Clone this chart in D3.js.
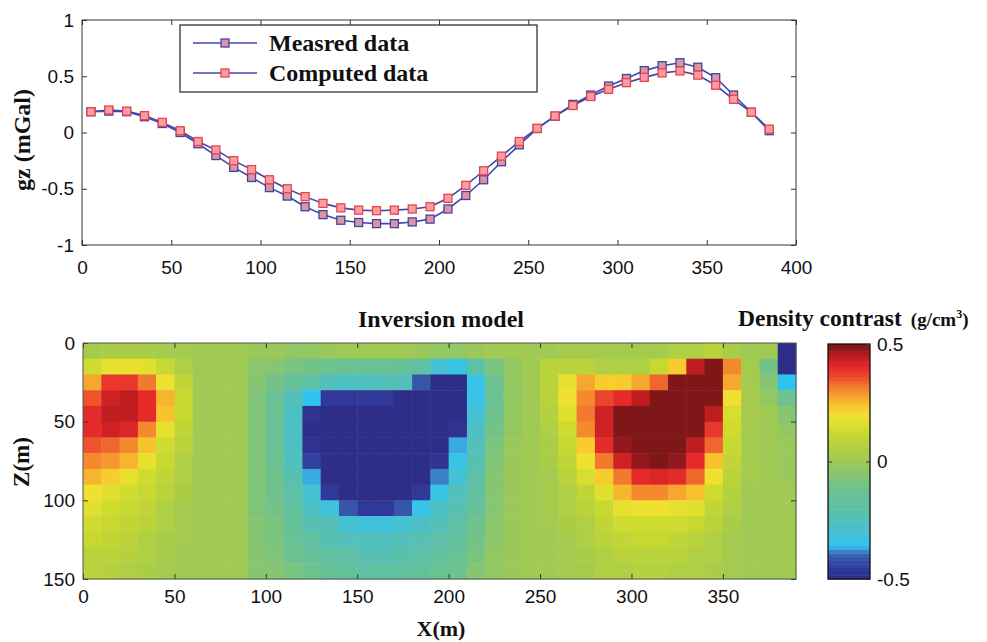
<!DOCTYPE html>
<html>
<head>
<meta charset="utf-8">
<script src="https://cdn.jsdelivr.net/npm/d3@7"></script>
<style>
  body { margin: 0; background: #fff; }
  svg { display: block; }
  .tick text { font-family: "Liberation Sans", Arial, sans-serif; font-size: 19px; fill: #111; }
  .tick line { stroke: #333; stroke-width: 1; }
  .serif { font-family: "Liberation Serif", "Times New Roman", serif; font-weight: bold; fill: #111; }
</style>
</head>
<body>
<svg id="fig" width="987" height="642"></svg>
<script>
// ---- gravity profile ----
const stations = [5, 15, 25, 35, 45, 55, 65, 75, 85, 95, 105, 115, 125, 135, 145, 155, 165, 175, 185, 195,
  205, 215, 225, 235, 245, 255, 265, 275, 285, 295, 305, 315, 325, 335, 345, 355, 365, 375, 385];
const measured = [0.185, 0.19, 0.185, 0.14, 0.08, 0.0, -0.10, -0.205, -0.31, -0.40, -0.49, -0.565, -0.66, -0.73,
  -0.78, -0.80, -0.81, -0.81, -0.795, -0.77, -0.68, -0.56, -0.42, -0.26, -0.11, 0.035, 0.145, 0.25, 0.333,
  0.413, 0.48, 0.55, 0.594, 0.62, 0.58, 0.487, 0.333, 0.18, 0.016];
const computed = [0.185, 0.2, 0.19, 0.15, 0.09, 0.016, -0.08, -0.155, -0.25, -0.33, -0.42, -0.50, -0.57, -0.63,
  -0.67, -0.69, -0.695, -0.69, -0.68, -0.66, -0.585, -0.47, -0.34, -0.21, -0.08, 0.037, 0.147, 0.24, 0.32,
  0.384, 0.443, 0.49, 0.53, 0.547, 0.51, 0.42, 0.295, 0.18, 0.03];
const gzTicks = [-1, -0.5, 0, 0.5, 1];
const profileTicks = [0, 50, 100, 150, 200, 250, 300, 350, 400];

// ---- inversion model (10 m x 10 m cells, g/cm^3) ----
const cellX = [0, 10, 20, 30, 40, 50, 60, 70, 80, 90, 100, 110, 120, 130, 140, 150, 160, 170, 180, 190,
  200, 210, 220, 230, 240, 250, 260, 270, 280, 290, 300, 310, 320, 330, 340, 350, 360, 370, 380];
const cellZ = [0, 10, 20, 30, 40, 50, 60, 70, 80, 90, 100, 110, 120, 130, 140];
const density = [
  [0.03,0.04,0.04,0.04,0.03,0.02, 0,0,0, -0.01,-0.01,-0.02, -0.02,-0.01,0,0.01,0.01,0,-0.01,-0.02,-0.02,-0.01, 0,0,0, 0.01,0.02,0.02,0.02,0.02,0.02,0.03,0.05,0.06,0.08,0.04, 0,0,-0.5],
  [0.14,0.18,0.18,0.16,0.12,0.06, 0.01,0,0, -0.04,-0.06,-0.08, -0.1,-0.12,-0.13,-0.14,-0.14,-0.15,-0.18,-0.3,-0.33,-0.2, -0.08,-0.02,0, 0.08,0.08,0.08,0.06,0.05,0.06,0.12,0.23,0.45,0.5,0.3, 0.02,-0.1,-0.5],
  [0.27,0.38,0.38,0.32,0.2,0.1, 0.01,0,0, -0.06,-0.1,-0.15, -0.2,-0.25,-0.27,-0.26,-0.24,-0.24,-0.42,-0.5,-0.5,-0.33, -0.12,-0.02,0, 0.08,0.18,0.27,0.22,0.22,0.27,0.34,0.5,0.5,0.5,0.28, 0.02,-0.06,-0.35],
  [0.35,0.43,0.45,0.4,0.26,0.11, 0.01,0,0, -0.07,-0.13,-0.24, -0.35,-0.46,-0.46,-0.46,-0.46,-0.5,-0.5,-0.5,-0.5,-0.33, -0.13,-0.02,0, 0.08,0.19,0.3,0.37,0.4,0.45,0.5,0.5,0.5,0.5,0.2, 0.02,-0.03,-0.12],
  [0.4,0.45,0.45,0.4,0.24,0.11, 0.01,0,0, -0.07,-0.14,-0.28, -0.47,-0.5,-0.5,-0.5,-0.5,-0.5,-0.5,-0.5,-0.5,-0.31, -0.12,-0.02,0, 0.07,0.16,0.32,0.43,0.5,0.5,0.5,0.5,0.5,0.44,0.15, 0.02,0,-0.05],
  [0.4,0.43,0.42,0.3,0.18,0.1, 0.01,0,0, -0.07,-0.14,-0.28, -0.49,-0.5,-0.5,-0.5,-0.5,-0.5,-0.5,-0.5,-0.47,-0.28, -0.1,-0.02,0, 0.06,0.13,0.3,0.43,0.5,0.5,0.5,0.5,0.5,0.39,0.14, 0.02,0,-0.02],
  [0.35,0.34,0.3,0.24,0.14,0.08, 0.01,0,0, -0.07,-0.14,-0.28, -0.48,-0.5,-0.5,-0.5,-0.5,-0.5,-0.5,-0.5,-0.37,-0.25, -0.08,-0.01,0, 0.04,0.12,0.23,0.4,0.48,0.5,0.5,0.5,0.45,0.33,0.12, 0.02,0,-0.01],
  [0.3,0.29,0.26,0.18,0.12,0.06, 0.01,0,0, -0.07,-0.13,-0.26, -0.45,-0.5,-0.5,-0.5,-0.5,-0.5,-0.5,-0.48,-0.33,-0.22, -0.07,-0.01,0, 0.04,0.1,0.2,0.32,0.43,0.48,0.5,0.48,0.4,0.24,0.1, 0.02,0,-0.01],
  [0.25,0.22,0.18,0.13,0.1,0.05, 0,0,0, -0.07,-0.12,-0.23, -0.36,-0.49,-0.5,-0.5,-0.5,-0.5,-0.5,-0.39,-0.3,-0.2, -0.06,-0.01,0, 0.03,0.08,0.15,0.22,0.32,0.4,0.42,0.4,0.33,0.2,0.08, 0.02,0,-0.01],
  [0.19,0.17,0.14,0.11,0.08,0.04, 0,0,0, -0.07,-0.11,-0.2, -0.3,-0.46,-0.49,-0.5,-0.5,-0.5,-0.46,-0.33,-0.25,-0.18, -0.05,-0.01,0, 0.03,0.06,0.1,0.16,0.26,0.3,0.3,0.28,0.24,0.14,0.07, 0.01,0,0],
  [0.16,0.14,0.12,0.1,0.06,0.03, 0,0,0, -0.07,-0.1,-0.17, -0.27,-0.32,-0.42,-0.46,-0.46,-0.42,-0.33,-0.28,-0.22,-0.15, -0.05,-0.01,0, 0.02,0.05,0.08,0.12,0.18,0.2,0.2,0.18,0.16,0.1,0.05, 0.01,0,0],
  [0.13,0.12,0.1,0.08,0.05,0.02, 0,0,0, -0.06,-0.09,-0.15, -0.22,-0.25,-0.3,-0.32,-0.32,-0.3,-0.27,-0.24,-0.2,-0.12, -0.04,-0.01,0, 0.02,0.04,0.06,0.1,0.13,0.14,0.14,0.13,0.11,0.08,0.04, 0.01,0,0],
  [0.11,0.1,0.08,0.06,0.04,0.02, 0,0,0, -0.06,-0.08,-0.13, -0.18,-0.22,-0.25,-0.26,-0.26,-0.25,-0.22,-0.2,-0.17,-0.1, -0.04,-0.01,0, 0.01,0.03,0.05,0.08,0.1,0.11,0.11,0.1,0.08,0.06,0.03, 0.01,0,0],
  [0.09,0.08,0.07,0.05,0.03,0.01, 0,0,0, -0.05,-0.07,-0.11, -0.15,-0.18,-0.2,-0.22,-0.22,-0.21,-0.19,-0.17,-0.14,-0.08, -0.03,-0.01,0, 0.01,0.03,0.04,0.06,0.08,0.09,0.09,0.08,0.06,0.05,0.03, 0.01,0,0],
  [0.08,0.07,0.06,0.04,0.02,0.01, 0,0,0, -0.05,-0.06,-0.09, -0.12,-0.15,-0.17,-0.18,-0.18,-0.17,-0.16,-0.14,-0.12,-0.06, -0.03,-0.01,0, 0.01,0.02,0.03,0.05,0.06,0.07,0.07,0.06,0.05,0.04,0.02, 0.01,0,0]
];
const modelXTicks = [0, 50, 100, 150, 200, 250, 300, 350];
const depthTicks = [0, 50, 100, 150];
const densityTicks = [-0.5, 0, 0.5];

// jet-like palette as it appears in print
const paletteStops = [-0.5, -0.46, -0.42, -0.39, -0.37, -0.35, -0.32, -0.28, -0.24, -0.2, -0.16, -0.12, -0.08, -0.04,
  0, 0.04, 0.08, 0.12, 0.16, 0.2, 0.24, 0.28, 0.32, 0.36, 0.4, 0.44, 0.47, 0.5];
const paletteColors = ["#2e2c84", "#30389a", "#3450a8", "#3a6cb8", "#3aa6e0", "#30c6f0", "#40c2dc", "#4cc0c8",
  "#54c0b8", "#5cc0a8", "#64c09c", "#6cc290", "#7cc47e", "#8cc66a", "#9ec956", "#aacd48", "#b8d23c", "#c8da30",
  "#dee02e", "#f2e030", "#f8c42c", "#f6a22e", "#f27a2e", "#ec4a2c", "#e42a2a", "#c81e22", "#9a1a1c", "#761416"];
const ramp = d3.scaleLinear().domain(paletteStops).range(paletteColors).clamp(true);
const nLevels = 64;
const levelColor = v => {
  let k = Math.floor((v + 0.5) * nLevels);
  k = Math.max(0, Math.min(nLevels - 1, k));
  return ramp(-0.5 + (k + 0.5) / nLevels);
};

const svg = d3.select("#fig");

function styleAxis(g) {
  g.select(".domain").remove();
  g.selectAll(".tick line").attr("stroke", "#333");
}
const minusFix = f => d => f(d).replace("\u2212", "-");

// ================= profile panel =================
const px = d3.scaleLinear().domain([0, 400]).range([82, 796]);
const py = d3.scaleLinear().domain([-1, 1]).range([245, 20]);

const profilePanel = svg.append("g");
profilePanel.append("rect").attr("x", px(0)).attr("y", py(1))
  .attr("width", px(400) - px(0)).attr("height", py(-1) - py(1))
  .attr("fill", "#fff");

profilePanel.append("g").attr("transform", `translate(0,${py(-1)})`)
  .call(d3.axisBottom(px).tickValues(profileTicks).tickFormat(d3.format("d")).tickSize(-5).tickPadding(16))
  .call(styleAxis);
profilePanel.append("g").attr("transform", `translate(0,${py(1)})`)
  .call(d3.axisTop(px).tickValues(profileTicks).tickFormat("").tickSize(-5))
  .call(styleAxis);
profilePanel.append("g").attr("transform", `translate(${px(0)},0)`)
  .call(d3.axisLeft(py).tickValues(gzTicks).tickFormat(minusFix(d3.format(""))).tickSize(-5).tickPadding(8))
  .call(styleAxis);
profilePanel.append("g").attr("transform", `translate(${px(400)},0)`)
  .call(d3.axisRight(py).tickValues(gzTicks).tickFormat("").tickSize(-5))
  .call(styleAxis);
profilePanel.append("rect").attr("x", px(0)).attr("y", py(1))
  .attr("width", px(400) - px(0)).attr("height", py(-1) - py(1))
  .attr("fill", "none").attr("stroke", "#333").attr("stroke-width", 1);

const line = d3.line().x((d, i) => px(stations[i])).y(d => py(d));
const series = [
  { name: "Measred data", values: measured, edge: "#3c46a8", fill: "#e0959c" },
  { name: "Computed data", values: computed, edge: "#f0404c", fill: "#f4a0a4" }
];
const ms = 8;
series.forEach(s => {
  profilePanel.append("path").datum(s.values).attr("d", line)
    .attr("fill", "none").attr("stroke", "#4048aa").attr("stroke-width", 1.6);
  profilePanel.append("g").selectAll("rect").data(s.values).join("rect")
    .attr("x", (d, i) => px(stations[i]) - ms / 2).attr("y", d => py(d) - ms / 2)
    .attr("width", ms).attr("height", ms)
    .attr("fill", s.fill).attr("stroke", s.edge).attr("stroke-width", 1.3);
});

// legend
const lg = profilePanel.append("g");
lg.append("rect").attr("x", 180).attr("y", 25).attr("width", 357).attr("height", 67)
  .attr("fill", "#fff").attr("stroke", "#222").attr("stroke-width", 1.2);
series.forEach((s, i) => {
  const yy = 43 + i * 30;
  lg.append("line").attr("x1", 193).attr("x2", 257).attr("y1", yy).attr("y2", yy)
    .attr("stroke", "#4048aa").attr("stroke-width", 1.6);
  lg.append("rect").attr("x", 225 - ms / 2).attr("y", yy - ms / 2).attr("width", ms).attr("height", ms)
    .attr("fill", s.fill).attr("stroke", s.edge).attr("stroke-width", 1.3);
  lg.append("text").attr("class", "serif").attr("x", 269).attr("y", yy + 8)
    .attr("font-size", 24).text(s.name);
});

svg.append("text").attr("class", "serif").attr("font-size", 24)
  .attr("transform", "translate(30,140) rotate(-90)").attr("text-anchor", "middle").text("gz (mGal)");

// ================= model panel =================
const mx = d3.scaleLinear().domain([0, 390]).range([83, 796]);
const mz = d3.scaleLinear().domain([0, 150]).range([343, 579]);

const modelPanel = svg.append("g");
const cells = [];
density.forEach((row, r) => row.forEach((v, c) => cells.push({ x: cellX[c], z: cellZ[r], v })));
modelPanel.append("g").selectAll("rect").data(cells).join("rect")
  .attr("x", d => mx(d.x)).attr("y", d => mz(d.z))
  .attr("width", mx(10) - mx(0) + 0.5).attr("height", mz(10) - mz(0) + 0.5)
  .attr("fill", d => levelColor(d.v));

modelPanel.append("g").attr("transform", `translate(0,${mz(150)})`)
  .call(d3.axisBottom(mx).tickValues(modelXTicks).tickSize(-5).tickPadding(11))
  .call(styleAxis);
modelPanel.append("g").attr("transform", `translate(0,${mz(0)})`)
  .call(d3.axisTop(mx).tickValues(modelXTicks).tickFormat("").tickSize(-5))
  .call(styleAxis);
modelPanel.append("g").attr("transform", `translate(${mx(0)},0)`)
  .call(d3.axisLeft(mz).tickValues(depthTicks).tickSize(-5).tickPadding(8))
  .call(styleAxis);
modelPanel.append("g").attr("transform", `translate(${mx(390)},0)`)
  .call(d3.axisRight(mz).tickValues(depthTicks).tickFormat("").tickSize(-5))
  .call(styleAxis);
modelPanel.append("rect").attr("x", mx(0)).attr("y", mz(0))
  .attr("width", mx(390) - mx(0)).attr("height", mz(150) - mz(0))
  .attr("fill", "none").attr("stroke", "#555").attr("stroke-width", 1);

svg.append("text").attr("class", "serif").attr("font-size", 24)
  .attr("x", 441).attr("y", 327).attr("text-anchor", "middle").text("Inversion model");
svg.append("text").attr("class", "serif").attr("font-size", 23)
  .attr("transform", "translate(29,462) rotate(-90)").attr("text-anchor", "middle").text("Z(m)");
svg.append("text").attr("class", "serif").attr("font-size", 22)
  .attr("x", 441).attr("y", 636).attr("text-anchor", "middle").text("X(m)");

const dc = svg.append("text").attr("class", "serif").attr("x", 738).attr("y", 326);
dc.append("tspan").attr("font-size", 23.5).text("Density contrast");
dc.append("tspan").attr("font-size", 19).attr("dx", 9).text("(g/cm");
dc.append("tspan").attr("font-size", 12).attr("dy", -8).text("3");
dc.append("tspan").attr("font-size", 19).attr("dy", 8).text(")");

// colour bar
const cbX = 828, cbW = 42;
const cy = d3.scaleLinear().domain([-0.5, 0.5]).range([579, 344]);
const bands = d3.range(nLevels).map(k => -0.5 + k / nLevels);
svg.append("g").selectAll("rect").data(bands).join("rect")
  .attr("x", cbX).attr("width", cbW)
  .attr("y", d => cy(d + 1 / nLevels)).attr("height", cy(0) - cy(1 / nLevels) + 0.5)
  .attr("fill", d => levelColor(d + 0.5 / nLevels));
svg.append("rect").attr("x", cbX).attr("y", cy(0.5)).attr("width", cbW).attr("height", cy(-0.5) - cy(0.5))
  .attr("fill", "none").attr("stroke", "#111").attr("stroke-width", 1.3);
svg.append("g").attr("transform", `translate(${cbX + cbW},0)`)
  .call(d3.axisRight(cy).tickValues(densityTicks).tickFormat(minusFix(d => d === 0 ? "0" : d3.format(".1f")(d))).tickSize(-4).tickPadding(7))
  .call(styleAxis);
svg.append("g").attr("transform", `translate(${cbX},0)`)
  .call(d3.axisLeft(cy).tickValues([0]).tickFormat("").tickSize(-4))
  .call(styleAxis);
</script>
</body>
</html>
